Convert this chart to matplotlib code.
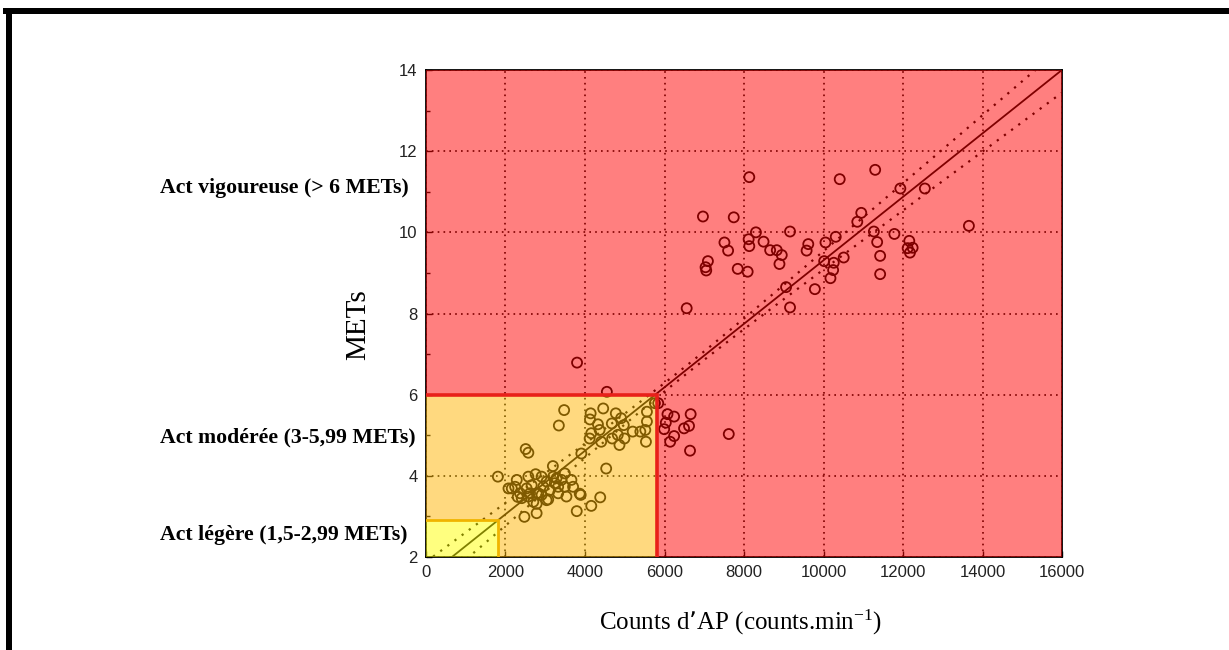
import numpy as np
import matplotlib
matplotlib.use("Agg")
import matplotlib.pyplot as plt
from matplotlib.patches import Polygon, Rectangle

# ---------------- data ----------------
counts = [
    # moderate cluster
    4550, 4458, 3475, 3342, 4142, 4125, 4325, 4367, 4117, 4158, 4408, 4775, 4908,
    4675, 4975, 4825, 4683, 4867, 4992, 5200, 5392, 5558, 5558, 5517, 5533, 5758,
    3908, 4533, 2508, 2575, 1808, 3192, 2758, 2075, 2283, 2242, 2367, 2533, 2575,
    2658, 2783, 2700, 2908, 2950, 3033, 3117, 3200, 3242, 3325, 3408, 3492, 3533,
    3658, 3700, 3033, 2783, 2475, 2783, 3792, 4158, 4383, 3892, 2408, 2575, 3492,
    2908, 3325, 2158, 2617, 2825, 3283, 3075, 2308, 3867,
    # just right of 5800 counts
    5842, 6075, 6242, 6658, 6033, 5992, 6492, 6617, 6242, 6142, 6642, 7617,
    # high cluster
    3800, 6558, 8133, 6967, 7742, 8300, 8117, 8133, 8492, 7508, 7600, 7092, 7033,
    7050, 7842, 8092, 8658, 8825, 8950, 8892, 9158, 9617, 9575, 10050, 10308, 10017,
    10258, 10242, 10175, 10508, 9783, 9058, 9158, 10408, 11300, 11933, 12550, 10950,
    10850, 11267, 11350, 11783, 12158, 12117, 12175, 12242, 11425, 11425, 13658,
]
mets = [
    6.07, 5.66, 5.62, 5.24, 5.54, 5.39, 5.27, 5.13, 4.92, 5.05, 4.84, 5.54, 5.42,
    5.29, 5.25, 5.01, 4.92, 4.76, 4.92, 5.09, 5.09, 5.58, 5.34, 5.13, 4.84, 5.79,
    4.55, 4.18, 4.66, 4.57, 3.98, 4.24, 4.04, 3.69, 3.90, 3.73, 3.57, 3.69, 3.49,
    3.77, 3.57, 3.36, 3.53, 3.73, 3.86, 3.65, 3.98, 3.82, 3.57, 3.90, 3.73, 3.49,
    3.90, 3.73, 3.40, 3.31, 2.99, 3.08, 3.13, 3.26, 3.47, 3.53, 3.45, 3.98, 4.06,
    3.98, 3.73, 3.69, 3.57, 3.57, 3.94, 3.42, 3.48, 3.56,
    5.79, 5.52, 5.46, 5.52, 5.31, 5.15, 5.17, 5.23, 4.98, 4.84, 4.62, 5.03,
    6.79, 8.13, 11.36, 10.39, 10.37, 10.00, 9.83, 9.66, 9.77, 9.75, 9.55, 9.29, 9.14,
    9.06, 9.10, 9.03, 9.56, 9.56, 9.44, 9.22, 10.02, 9.71, 9.55, 9.75, 9.89, 9.29,
    9.25, 9.07, 8.87, 9.38, 8.60, 8.65, 8.15, 11.31, 11.54, 11.08, 11.08, 10.48,
    10.26, 10.02, 9.76, 9.96, 9.79, 9.61, 9.50, 9.62, 9.42, 8.97, 10.16,
]

# regression line and its confidence band
fit_intercept = 1.49
fit_slope = 0.000782
band_center = 6500
band_min_halfwidth = 0.10
band_spread = 5.8e-5

# intensity zones
zone_light = (1800, 2.9)      # counts limit, METs limit
zone_moderate = (5800, 6.0)

x_ticks = [0, 2000, 4000, 6000, 8000, 10000, 12000, 14000, 16000]
y_ticks = [2, 4, 6, 8, 10, 12, 14]
zone_labels = ["Act vigoureuse (> 6 METs)",
               "Act modérée (3-5,99 METs)",
               "Act légère (1,5-2,99 METs)"]
x_label = "Counts d’AP (counts.min$\\mathregular{^{-1}}$)"
y_label = "METs"

# ---------------- figure ----------------
W, H = 1229, 650
fig = plt.figure(figsize=(W / 100, H / 100), dpi=100)
fig.patch.set_facecolor("white")

ax_l, ax_r, ax_t, ax_b = 426, 1062, 70, 557
ax = fig.add_axes([ax_l / W, 1 - ax_b / H, (ax_r - ax_l) / W, (ax_b - ax_t) / H])
ax.set_xlim(0, 16000)
ax.set_ylim(2, 14)
ax.set_facecolor("white")

# grid
ax.set_xticks(x_ticks)
ax.set_yticks(y_ticks)
ax.set_yticks([3, 5, 7, 9, 11, 13], minor=True)
ax.grid(True, which="major", color="black", linestyle=(0, (1, 2.5)), linewidth=1.2, zorder=1)
ax.tick_params(which="both", direction="in", length=4, width=1, color="black",
               labelsize=12, labelcolor="#222222", pad=6)
ax.tick_params(which="minor", length=3)
for lab in ax.get_xticklabels() + ax.get_yticklabels():
    lab.set_fontfamily("Liberation Sans")
for s in ax.spines.values():
    s.set_color("black")
    s.set_linewidth(1.3)

# regression + confidence band
xs = np.linspace(0, 16000, 400)
yfit = fit_intercept + fit_slope * xs
half = np.sqrt(band_min_halfwidth ** 2 + (band_spread * (xs - band_center)) ** 2)
ax.plot(xs, yfit, color="black", linewidth=1.3, zorder=2)
ax.plot(xs, yfit + half, color="black", linewidth=1.6, linestyle=(0, (1, 3)), zorder=2)
ax.plot(xs, yfit - half, color="black", linewidth=1.6, linestyle=(0, (1, 3)), zorder=2)

# points
ax.scatter(counts, mets, s=52, facecolors="none", edgecolors="black", linewidths=1.3, zorder=3)

# translucent zone overlays
lx, ly = zone_light
mx, my = zone_moderate
red_poly = [(0, my), (0, 14), (16000, 14), (16000, 2), (mx, 2), (mx, my)]
orange_poly = [(0, ly), (0, my), (mx, my), (mx, 2), (lx, 2), (lx, ly)]
yellow_poly = [(0, 2), (0, ly), (lx, ly), (lx, 2)]
ax.add_patch(Polygon(red_poly, closed=True, facecolor="#ff0000", alpha=0.5,
                     edgecolor="none", zorder=4, clip_on=False))
ax.add_patch(Polygon(orange_poly, closed=True, facecolor="#ffb400", alpha=0.5,
                     edgecolor="none", zorder=4, clip_on=False))
ax.add_patch(Polygon(yellow_poly, closed=True, facecolor="#ffff00", alpha=0.5,
                     edgecolor="none", zorder=4, clip_on=False))

# zone borders
ax.plot([0, mx, mx], [my, my, 2], color="#e8201a", linewidth=2.6, zorder=5,
        solid_joinstyle="miter")
ax.plot([0, lx, lx], [ly, ly, 2], color="#f0b400", linewidth=2.0, zorder=5,
        solid_joinstyle="miter")

# labels
fig.text(741 / W, 1 - 622 / H, x_label, ha="center", va="center",
         fontsize=18, family="Liberation Serif")
fig.text(358 / W, 1 - 325 / H, y_label, ha="center", va="center", rotation=90,
         fontsize=21, family="Liberation Serif")
for lab, ypix in zip(zone_labels, [188, 437, 535]):
    fig.text(160 / W, 1 - ypix / H, lab, ha="left", va="center", fontsize=15.7,
             family="Liberation Serif", fontweight="bold")

# black frame (top and left)
fig.add_artist(Rectangle((3 / W, 1 - 14 / H), 1 - 3 / W, 6 / H, transform=fig.transFigure,
                         facecolor="black", edgecolor="none"))
fig.add_artist(Rectangle((6 / W, 0), 6 / W, 1 - 8 / H, transform=fig.transFigure,
                         facecolor="black", edgecolor="none"))

fig.savefig("out.png", dpi=100)
